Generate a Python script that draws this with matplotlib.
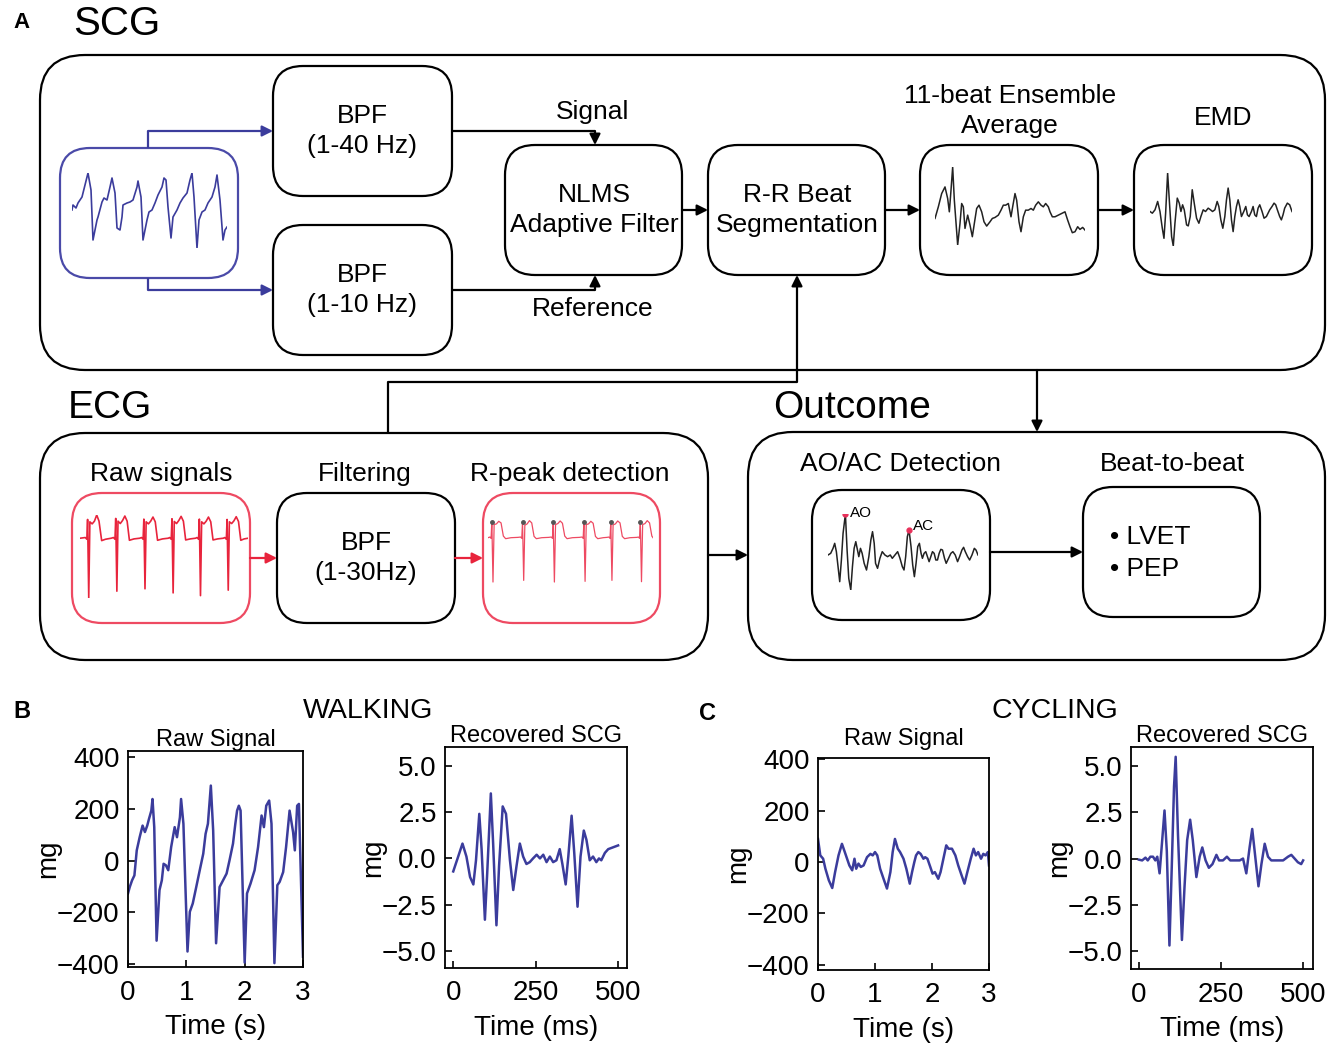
import numpy as np
import matplotlib.pyplot as plt
from matplotlib.patches import FancyBboxPatch

plt.rcParams['font.family'] = ['Liberation Sans', 'DejaVu Sans']

W, H = 1332, 1044

# ---- icon traces (arbitrary units) ----
scg_raw_t = [17, 18, 21, 23, 27, 33, 36, 38, 42, 43, 47, 49, 52, 55, 57, 60, 62, 65, 67, 68, 72, 75, 78,
             82, 83, 86, 88, 92, 94, 97, 100, 103, 107, 109, 111, 113, 116, 118, 122, 125, 128, 132,
             135, 137, 139, 142, 144, 147, 150, 153, 157, 160, 162, 165, 168, 170, 172]
scg_raw_v = [0, 5, 2, 7, 13, 37, 20, -30, -10, -7, 8, 12, 10, 23, 32, 17, -18, -20, -7, 5, 7, 8, 10,
             23, 29, 13, -30, -10, -2, 0, 7, 15, 23, 32, 30, 3, -28, -7, 0, 7, 12, 17,
             30, 37, 13, -38, -10, -2, 0, 7, 13, 23, 35, 10, -30, -20, -17]

ens_t = [60, 70, 80, 90, 98, 103, 108, 113, 118, 128, 135, 140, 145, 150, 158, 165, 172, 178, 185, 192,
         200, 207, 215, 225, 232, 240, 250, 258, 265, 272, 280, 288, 293, 300, 305, 312, 318, 325, 332,
         340, 348, 355, 362, 370, 378, 385, 392, 400, 405, 412, 420, 430, 440, 450, 458, 465, 472, 480,
         488, 495, 503, 510]
ens_v = [-0.5, 3, 7, 9, 5.5, 1.5, 8, 15, 5, -8.5, -2, 4, 3, -3.5, 0.5, -2.5, -6, -2, 2.5, 3.5,
         1.5, -1.5, -2.8, -1.5, -0.5, -0.2, 0.5, 2, 3.5, 3.5, 4, 0, 3, 7, 5, -1.5, -4.5, 0, 2,
         2, 2.5, 2, 3.5, 4.5, 3.5, 3, 4, 3, 1.5, 0, 0, 0.5, 1, 1.5, -1, -3, -4.8, -4.5,
         -3, -3.8, -3.2, -4]

emd_t = [705, 712, 720, 728, 735, 742, 747, 752, 758, 763, 770, 775, 780, 787, 793, 798, 803, 808, 815,
         820, 826, 832, 838, 845, 852, 858, 865, 872, 880, 887, 893, 900, 907, 912, 918, 924, 930, 935,
         940, 945, 950, 955, 960, 965, 970, 975, 980, 987, 993, 998, 1003, 1010, 1015, 1020, 1025, 1030,
         1035, 1042, 1048, 1055, 1060, 1065, 1072, 1078, 1083, 1088, 1095, 1100, 1105, 1110, 1118, 1125, 1132]
emd_v = [0, -0.5, 0.5, 3, 0, -5, -8, -0.5, 11.5, 3.5, -7.5, -10.3, -3.5, 4, 2.5, 0, 2, 0.5, -4,
         -4.3, -1.5, 6.5, 2.5, -2, -3.5, -1.5, 0.5, 0, 1, 0.5, 0, 0.5, 3, 1.5, -2.5, -5, -1.5, 3.5,
         7, 3.5, -2.5, -6, -1.5, 1.5, 3.5, 1.5, -1.5, 0, 1.5, -1, -1.5, 0, 1.5, -1, -1.5, 1,
         2, 0, -2, -1.5, -0.5, 0.5, 1.5, 2.5, 2, 0.5, -1.5, -2.5, -1, 1, 2.5, 2, 0]

aoac_t = [70, 78, 85, 90, 95, 100, 105, 110, 115, 122, 127, 132, 138, 143, 148, 153, 158, 162, 167, 172,
          178, 185, 192, 198, 203, 208, 212, 218, 225, 232, 240, 248, 256, 262, 270, 278, 285, 292, 297,
          302, 307, 312, 318, 323, 328, 333, 338, 343, 348, 352, 357, 362, 367, 372, 377, 382, 387, 392,
          397, 402, 407, 412, 418, 423, 430, 437, 443, 450, 457, 463, 470, 475, 480, 487, 493, 500, 507,
          512, 518]
aoac_v = [0, 0.5, 2, 3.5, 1, -3.5, -8, -1.5, 6.5, 12.3, 1.5, -7, -10.5, -3.5, 2, 4, 1.5, -0.5, 2, 0.5,
          -2.5, -4.5, -0.5, 4.5, 7, 3.5, -2.5, -4, -1, 1, 0, -0.5, 0, -1, 0, 1, -1, -3.5, -4.5,
          -0.5, 5.5, 7.5, 2.5, -3, -6.5, -2.5, 2.5, 3.5, 0.5, -1, 0.5, 1, -0.5, -2, -0.5, 1, 0.5, -1.5,
          -1.5, 0.5, 1.7, 1.5, -1, -2.5, -1, 0.5, 1, 0, -2, -0.5, 1.5, 2.3, 1, -0.5, -1.5, 0, 2,
          1.5, 0]
ao_t, ao_v = 122, 12.3
ac_t, ac_v = 312, 7.5

ecg_raw_t = [38, 52, 56, 58, 61, 64, 70, 76, 82, 88, 95, 105, 120,
             126, 130, 132, 135, 138, 144, 150, 156, 162, 168, 180, 195,
             200, 204, 206, 209, 212, 218, 224, 230, 236, 242, 255, 270,
             274, 278, 280, 283, 286, 292, 298, 304, 310, 316, 328, 342,
             346, 350, 352, 355, 358, 364, 370, 376, 382, 388, 400, 415,
             419, 423, 425, 428, 431, 437, 443, 449, 455, 461, 470, 480]
ecg_raw_v = [0, 0.2, -0.3, 5.5, -17.5, 4.8, 4.2, 5.0, 6.8, 5.0, -0.7, -0.3, 0,
             0.2, -0.3, 5.8, -15.5, 5.0, 4.3, 5.2, 6.5, 5.0, -0.6, -0.2, 0,
             0.2, -0.3, 5.6, -14.8, 4.8, 4.2, 5.0, 6.2, 4.8, -0.6, -0.2, 0,
             0.2, -0.3, 5.7, -16.0, 4.9, 4.3, 5.2, 6.4, 5.0, -0.5, -0.2, 0,
             0.2, -0.3, 5.6, -16.8, 4.8, 4.2, 5.0, 6.2, 4.8, -0.5, -0.2, 0,
             0.2, -0.3, 5.5, -15.2, 4.8, 4.3, 5.1, 6.3, 4.9, -0.6, -0.2, 0]

ecg_f_t = [1100, 1105, 1108, 1110, 1113, 1116, 1122, 1128, 1134, 1140, 1146, 1160, 1178,
           1185, 1188, 1190, 1193, 1196, 1202, 1208, 1214, 1220, 1226, 1240, 1258,
           1265, 1268, 1270, 1273, 1276, 1282, 1288, 1294, 1300, 1306, 1320, 1338,
           1345, 1348, 1350, 1353, 1356, 1362, 1368, 1374, 1380, 1386, 1400, 1410,
           1415, 1418, 1420, 1423, 1426, 1432, 1438, 1444, 1450, 1456, 1470, 1488,
           1492, 1495, 1497, 1500, 1503, 1509, 1515, 1521, 1527, 1530]
ecg_f_v = [0, 0.2, -0.2, 4.8, -13.5, 4.0, 4.2, 5.0, 4.5, 0.5, -0.3, 0, 0.1,
           0.2, -0.2, 4.8, -13.0, 3.8, 4.2, 5.2, 4.5, 0.4, -0.3, 0, 0.1,
           0.2, -0.2, 4.9, -13.5, 4.0, 4.3, 5.1, 4.4, 0.5, -0.3, 0, 0.1,
           0.2, -0.2, 4.9, -13.3, 4.0, 4.2, 5.0, 4.4, 0.4, -0.3, 0, 0.1,
           0.2, -0.2, 4.7, -13.0, 3.9, 4.2, 5.1, 4.5, 0.4, -0.3, 0, 0.1,
           0.2, -0.2, 4.8, -13.4, 4.0, 4.3, 5.2, 4.5, 0.5, 0]
rpeak_t = [1110, 1190, 1270, 1350, 1420, 1497]
rpeak_v = [4.8, 4.8, 4.9, 4.9, 4.7, 4.8]

# ---- panel B / C data ----
walk_raw_t = [0, 0.03, 0.07, 0.11, 0.15, 0.2, 0.25, 0.29, 0.33, 0.36, 0.4, 0.42, 0.45, 0.49, 0.54, 0.58,
              0.61, 0.65, 0.69, 0.74, 0.8, 0.84, 0.89, 0.91, 0.95, 1.02, 1.06, 1.11, 1.17, 1.23, 1.29,
              1.33, 1.37, 1.42, 1.46, 1.51, 1.57, 1.63, 1.69, 1.74, 1.8, 1.84, 1.87, 1.9, 1.93, 2.0,
              2.04, 2.1, 2.17, 2.23, 2.29, 2.33, 2.37, 2.42, 2.46, 2.51, 2.56, 2.6, 2.66, 2.71, 2.77,
              2.83, 2.86, 2.9, 2.93, 2.97, 3.0]
walk_raw_v = [-127, -102, -76, -57, 40, 91, 136, 111, 136, 162, 194, 239, 130, -310, -114, -76,
              -12, -18, -37, 53, 130, 91, 168, 239, 143, -352, -198, -166, -102, -37, 27,
              104, 143, 291, 117, -320, -102, -76, -50, 1, 66, 143, 194, 213, 194, -395,
              -127, -89, -37, 53, 175, 130, 213, 233, 143, -397, -95, -82, -44, 53, 194,
              111, 40, 213, 220, -114, -372]

walk_scg_t = [0, 15, 28, 40, 51, 61, 69, 79, 86, 96, 103, 114, 121, 131, 139, 150, 160, 172, 182, 192,
              202, 212, 222, 232, 242, 253, 263, 273, 283, 293, 303, 313, 323, 331, 341, 349, 359, 367,
              377, 386, 396, 404, 414, 424, 434, 442, 449, 460, 470, 485, 500]
walk_scg_v = [-0.7, 0.1, 0.8, 0.1, -1.0, -1.4, -0.1, 2.4, 0.5, -3.3, -0.8, 3.5, 0.8, -3.6, -0.4, 2.8,
              2.4, -0.1, -1.7, -0.4, 0.8, 0.1, -0.3, -0.2, 0, 0.2, 0, 0.2, -0.2, 0.1, -0.2, -0.1,
              0.5, -0.3, -1.4, 0.1, 2.3, 0.3, -2.6, 0.1, 1.5, 1.0, -0.1, 0.1, -0.2, 0, -0.1, 0.3,
              0.5, 0.6, 0.7]

cyc_raw_t = [0, 0.04, 0.09, 0.13, 0.19, 0.25, 0.3, 0.36, 0.42, 0.47, 0.51, 0.55, 0.6, 0.64, 0.67, 0.71,
             0.75, 0.8, 0.86, 0.92, 0.96, 1.0, 1.04, 1.09, 1.15, 1.21, 1.27, 1.31, 1.35, 1.4, 1.44, 1.5,
             1.55, 1.61, 1.65, 1.69, 1.72, 1.76, 1.8, 1.85, 1.88, 1.92, 1.97, 2.01, 2.05, 2.11, 2.15,
             2.2, 2.25, 2.29, 2.35, 2.41, 2.46, 2.52, 2.57, 2.62, 2.68, 2.73, 2.77, 2.81, 2.86, 2.9,
             2.94, 2.98, 3.0]
cyc_raw_v = [90, 26, 13, -26, -71, -101, -39, 26, 71, 39, 13, -13, -32, 13, -26, -6,
             -19, -13, 19, 32, 26, 39, 26, -26, -65, -103, -39, 39, 90, 52, 39, 13,
             -26, -84, -39, 0, 26, 39, 32, 13, 19, 13, -19, -45, -39, -65, -39,
             13, 65, 52, 52, 26, -13, -52, -84, -39, 13, 52, 26, 39, 13, 32,
             26, 39, -13]

cyc_scg_t = [0, 10, 20, 27, 35, 43, 50, 56, 63, 71, 78, 85, 93, 100, 107, 112, 119, 131, 139, 147, 156,
             164, 175, 185, 193, 203, 213, 224, 236, 244, 256, 268, 278, 291, 307, 317, 327, 337, 345,
             353, 364, 373, 383, 393, 403, 419, 439, 454, 464, 474, 484, 494, 500]
cyc_scg_v = [-0.06, -0.1, 0.05, -0.1, 0.1, 0.1, -0.1, 0.1, -0.8, 1.0, 2.6, 0.4, -4.7, -0.5, 3.9, 5.5,
             1.3, -4.4, -1.5, 1.0, 2.1, 1.0, -1.0, 0.1, 0.6, -0.1, -0.5, -0.3, 0.2, -0.1, -0.1, 0.1,
             -0.1, -0.1, -0.1, 0, -0.8, 0.6, 1.6, 0.3, -1.5, -0.3, 0.8, 0.1, -0.1, -0.1, -0.1, 0.1,
             0.2, 0, -0.2, -0.3, -0.1]

BLUE = '#3b3c9c'
RED = '#e8243c'
PINK = '#ee4a62'

fig = plt.figure(figsize=(W / 100, H / 100), dpi=100)
ax = fig.add_axes([0, 0, 1, 1])
ax.set_xlim(0, W)
ax.set_ylim(H, 0)
ax.axis('off')


def rbox(x0, y0, x1, y1, r=30, color='black', lw=1.6):
    p = FancyBboxPatch((x0, y0), x1 - x0, y1 - y0,
                       boxstyle='round,pad=0,rounding_size=%g' % r,
                       fc='none', ec=color, lw=lw)
    ax.add_patch(p)


def arrow(x0, y0, x1, y1, color='black', lw=1.6):
    ax.annotate('', xy=(x1, y1), xytext=(x0, y0),
                arrowprops=dict(arrowstyle='-|>', color=color, lw=lw,
                                mutation_scale=16, shrinkA=0, shrinkB=0))


def line(xs, ys, color='black', lw=1.6):
    ax.plot(xs, ys, color=color, lw=lw, solid_capstyle='butt')


def icon(x0, y0, x1, y1):
    a = fig.add_axes([x0 / W, 1 - y1 / H, (x1 - x0) / W, (y1 - y0) / H])
    a.axis('off')
    a.margins(0)
    return a


# ---- SCG block ----
rbox(40, 55, 1325, 370, r=45)
rbox(60, 148, 238, 278, r=30, color='#4a4aa8')
rbox(273, 66, 452, 196)
rbox(273, 225, 452, 355)
rbox(505, 145, 682, 275)
rbox(708, 145, 885, 275)
rbox(920, 145, 1098, 275)
rbox(1134, 145, 1312, 275)

line([148, 148], [148, 131], color=BLUE)
arrow(148, 131, 273, 131, color=BLUE)
line([148, 148], [278, 290], color=BLUE)
arrow(148, 290, 273, 290, color=BLUE)
line([452, 595], [131, 131])
arrow(595, 131, 595, 145)
line([452, 595], [290, 290])
arrow(595, 290, 595, 275)
arrow(682, 210, 708, 210)
arrow(885, 210, 920, 210)
arrow(1098, 210, 1134, 210)

fs = 19
ax.text(22, 22, 'A', fontsize=16, fontweight='bold', ha='center', va='center')
ax.text(73, 24, 'SCG', fontsize=29, ha='left', va='center')
ax.text(362, 131, 'BPF\n(1-40 Hz)', fontsize=fs, ha='center', va='center', linespacing=1.3)
ax.text(362, 290, 'BPF\n(1-10 Hz)', fontsize=fs, ha='center', va='center', linespacing=1.3)
ax.text(593, 112, 'Signal', fontsize=fs, ha='center', va='center')
ax.text(593, 309, 'Reference', fontsize=fs, ha='center', va='center')
ax.text(594, 210, 'NLMS\nAdaptive Filter', fontsize=fs, ha='center', va='center', linespacing=1.3)
ax.text(797, 210, 'R-R Beat\nSegmentation', fontsize=fs, ha='center', va='center', linespacing=1.3)
ax.text(1010, 111, '11-beat Ensemble\nAverage', fontsize=fs, ha='center', va='center', linespacing=1.3)
ax.text(1223, 118, 'EMD', fontsize=fs, ha='center', va='center')

# ---- ECG block ----
rbox(40, 433, 708, 660, r=45)
rbox(72, 493, 250, 623, r=30, color=PINK)
rbox(277, 493, 455, 623)
rbox(483, 493, 660, 623, r=30, color=PINK)
arrow(250, 558, 277, 558, color=RED)
arrow(455, 558, 483, 558, color=RED)
line([388, 388, 797], [433, 382, 382])
arrow(797, 382, 797, 275)
arrow(708, 555, 748, 555)

ax.text(68, 408, 'ECG', fontsize=28, ha='left', va='center')
ax.text(161, 474, 'Raw signals', fontsize=fs, ha='center', va='center')
ax.text(365, 474, 'Filtering', fontsize=fs, ha='center', va='center')
ax.text(570, 474, 'R-peak detection', fontsize=fs, ha='center', va='center')
ax.text(366, 558, 'BPF\n(1-30Hz)', fontsize=fs, ha='center', va='center', linespacing=1.3)

# ---- Outcome block ----
rbox(748, 432, 1325, 660, r=45)
rbox(812, 490, 990, 620)
rbox(1083, 487, 1260, 617)
arrow(1037, 370, 1037, 432)
arrow(990, 552, 1083, 552)
ax.text(773, 408, 'Outcome', fontsize=28, ha='left', va='center')
ax.text(901, 464, 'AO/AC Detection', fontsize=fs, ha='center', va='center')
ax.text(1172, 464, 'Beat-to-beat', fontsize=fs, ha='center', va='center')
ax.text(1110, 537, '\u2022 LVET', fontsize=19, ha='left', va='center')
ax.text(1110, 569, '\u2022 PEP', fontsize=19, ha='left', va='center')

# ---- icons ----
a = icon(72, 173, 227, 248)
a.plot(scg_raw_t, scg_raw_v, color=BLUE, lw=1.2)

a = icon(935, 167, 1085, 245)
a.plot(ens_t, ens_v, color='#222222', lw=1.1)

a = icon(1150, 173, 1292, 246)
a.plot(emd_t, emd_v, color='#222222', lw=1.1)

a = icon(828, 514, 978, 590)
a.plot(aoac_t, aoac_v, color='#222222', lw=1.1)
a.plot([ao_t, ac_t], [ao_v, ac_v], 'o', color='#e8305a', ms=3.5)
a.annotate('AO', (ao_t, ao_v), xytext=(3, 1), textcoords='offset points',
           fontsize=11, va='center', annotation_clip=False)
a.annotate('AC', (ac_t, ac_v), xytext=(3, 3), textcoords='offset points',
           fontsize=11, va='center', annotation_clip=False)

a = icon(80, 515, 248, 598)
a.plot(ecg_raw_t, ecg_raw_v, color=RED, lw=1.2)

a = icon(488, 518, 653, 583)
a.plot(ecg_f_t, ecg_f_v, color=PINK, lw=0.9)
a.plot(rpeak_t, rpeak_v, 'o', color='#555555', ms=2.5)
a.set_ylim(min(ecg_f_v) - 0.3, max(ecg_f_v) + 0.8)

# ---- panels B and C ----
ax.text(22, 712, 'B', fontsize=17, fontweight='bold', ha='center', va='center')
ax.text(707, 714, 'C', fontsize=17, fontweight='bold', ha='center', va='center')
ax.text(368, 711, 'WALKING', fontsize=20.5, ha='center', va='center')
ax.text(1055, 711, 'CYCLING', fontsize=20.5, ha='center', va='center')


def panel(x0, y0, x1, y1, t, v, title, xlim, ylim, xticks, yticks, xlabel, fmt, tpad=3):
    p = fig.add_axes([x0 / W, 1 - y1 / H, (x1 - x0) / W, (y1 - y0) / H])
    p.plot(t, v, color=BLUE, lw=1.8)
    p.set_xlim(*xlim)
    p.set_ylim(*ylim)
    p.set_xticks(xticks)
    p.set_yticks(yticks)
    p.set_yticklabels([(fmt % y).replace('-', '\u2212') for y in yticks])
    p.tick_params(labelsize=20, direction='in', length=5, width=1.2, pad=6)
    p.tick_params(axis='x', pad=9)
    p.set_xlabel(xlabel, fontsize=20, labelpad=6)
    p.set_ylabel('mg', fontsize=20, labelpad=-3)
    p.set_title(title, fontsize=17, pad=tpad)
    for s in p.spines.values():
        s.set_linewidth(1.3)
    return p


panel(128, 751, 303, 967, walk_raw_t, walk_raw_v, 'Raw Signal', (0, 3), (-412, 425),
      [0, 1, 2, 3], [-400, -200, 0, 200, 400], 'Time (s)', '%d')
panel(445, 747, 627, 968, walk_scg_t, walk_scg_v, 'Recovered SCG', (-25, 527), (-5.9, 6.0),
      [0, 250, 500], [-5.0, -2.5, 0.0, 2.5, 5.0], 'Time (ms)', '%.1f')
panel(818, 758, 989, 970, cyc_raw_t, cyc_raw_v, 'Raw Signal', (0, 3), (-420, 405),
      [0, 1, 2, 3], [-400, -200, 0, 200, 400], 'Time (s)', '%d', tpad=9)
panel(1131, 747, 1313, 969, cyc_scg_t, cyc_scg_v, 'Recovered SCG', (-24, 530), (-5.97, 6.03),
      [0, 250, 500], [-5.0, -2.5, 0.0, 2.5, 5.0], 'Time (ms)', '%.1f')

fig.savefig('out.png', dpi=100)
